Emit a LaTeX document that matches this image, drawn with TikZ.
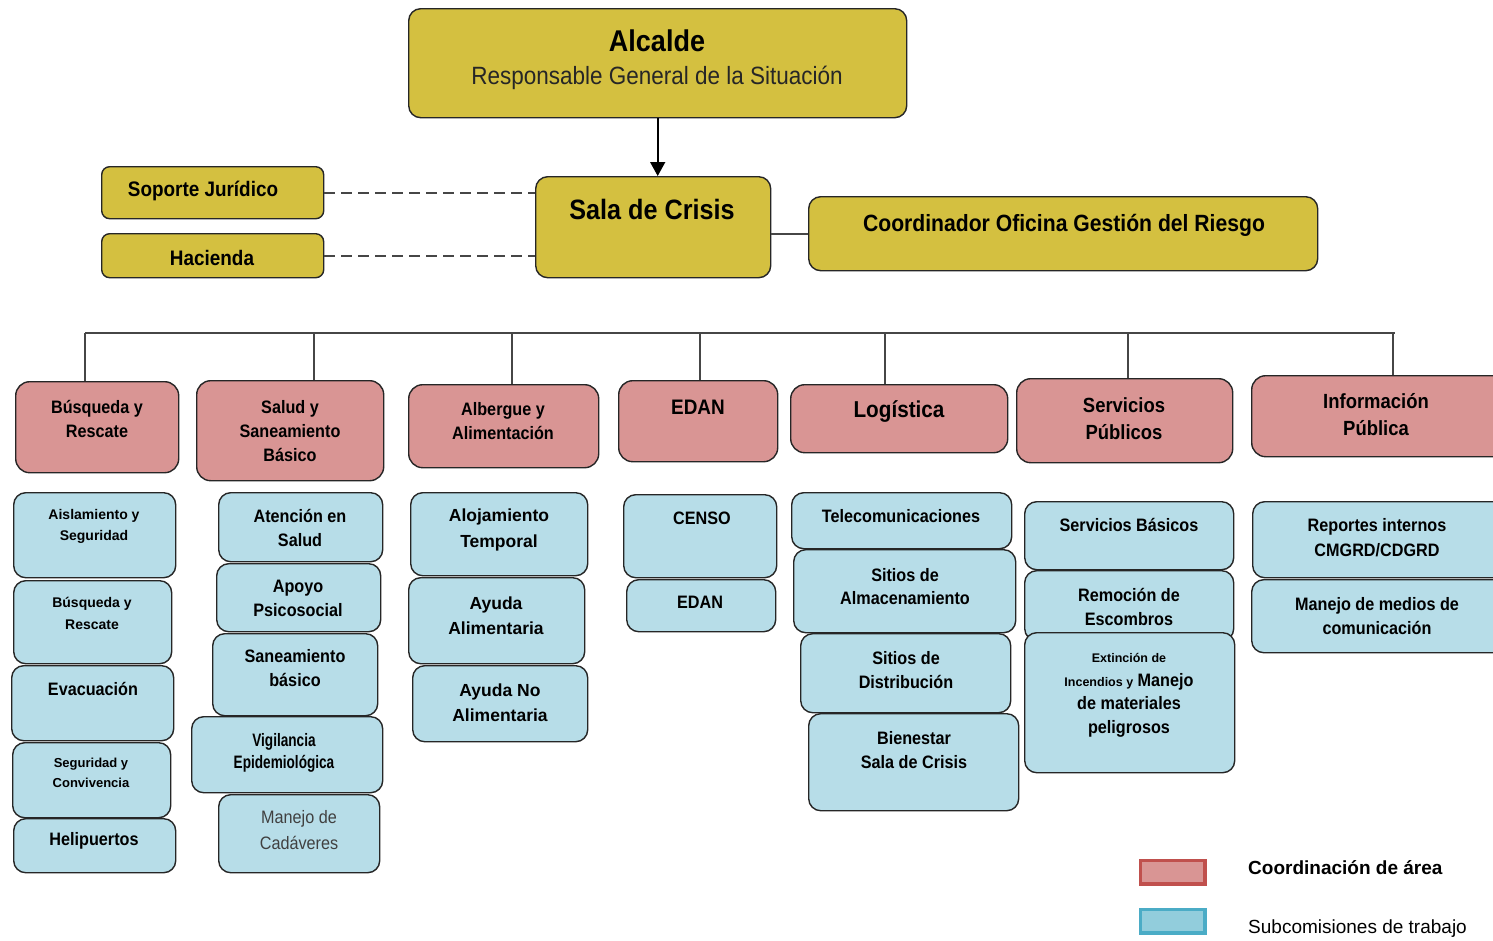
\documentclass[tikz,border=0pt]{standalone}
\usepackage{fontspec}
\setmainfont{Liberation Sans}[FakeStretch=0.9]
\newfontfamily\widefont{Liberation Sans}
\usepackage{graphicx}
\usetikzlibrary{arrows.meta}

\definecolor{jefeyellow}{RGB}{212,192,64}
\definecolor{areapink}{RGB}{217,149,148}
\definecolor{subblue}{RGB}{183,221,232}
\definecolor{boxline}{RGB}{38,38,38}
\definecolor{linegray}{RGB}{70,70,70}
\definecolor{legred}{RGB}{192,80,77}
\definecolor{legblue}{RGB}{75,172,198}
\definecolor{legfill}{RGB}{146,205,220}

\begin{document}
\begin{tikzpicture}[x=1pt, y=-1pt,
    box/.style={draw=boxline, line width=1.4pt, rounded corners=12pt, anchor=north west, inner sep=0pt},
    jefe/.style={box, fill=jefeyellow},
    area/.style={box, fill=areapink, rounded corners=14pt},
    sub/.style={box, fill=subblue},
    txt/.style={align=center, inner sep=0pt, font=\bfseries\fontsize{18}{24}\selectfont},
    wide/.style={txt, font=\widefont\bfseries\fontsize{14}{21}\selectfont},
    busline/.style={draw=linegray, line width=1.6pt},
    dashline/.style={draw=linegray, line width=2.2pt, dash pattern=on 11pt off 6pt}]

    \useasboundingbox (0,0) rectangle (1493,940);

    % the head boxes
    \node[jefe, minimum width=498pt, minimum height=109pt] (alcalde) at (408,8) {};
    \node[txt, font=\bfseries\fontsize{30}{36}\selectfont] (alcalde-t) at (657,41) {Alcalde};
    \node[txt, font=\fontsize{25}{30}\selectfont, text=black!85] (alcalde-s) at (657,78) {Responsable General de la Situación};
    \node[jefe, minimum width=235pt, minimum height=101pt] (sala) at (535,176) {};
    \node[txt, font=\bfseries\fontsize{28}{34}\selectfont] (sala-t) at (652,209) {Sala de Crisis};
    \node[jefe, rounded corners=8pt, minimum width=222pt, minimum height=52pt] (soporte) at (101,166) {};
    \node[txt, font=\bfseries\fontsize{21}{26}\selectfont] (soporte-t) at (203,191) {Soporte Jurídico};
    \node[jefe, rounded corners=8pt, minimum width=222pt, minimum height=44pt] (hacienda) at (101,233) {};
    \node[txt, font=\bfseries\fontsize{21}{26}\selectfont] (hacienda-t) at (212,258) {Hacienda};
    \node[jefe, minimum width=509pt, minimum height=74pt] (coord) at (808,196) {};
    \node[txt, font=\bfseries\fontsize{23.5}{28}\selectfont] (coord-t) at (1064,225) {Coordinador Oficina Gestión del Riesgo};

    % links between the head boxes
    \draw[line width=1.6pt, -{Triangle[length=14pt,width=15pt]}] (alcalde.south) -- (alcalde.south |- sala.north);
    \draw[dashline] (soporte.east) -- (soporte.east -| sala.west);
    \draw[dashline] (hacienda.east) -- (hacienda.east -| sala.west);
    \draw[busline] (coord.west -| sala.east) -- (coord.west);

    % the area coordinators
    \node[area, minimum width=163pt, minimum height=91pt] (busq) at (15,381) {};
    \node[txt] (busq-t) at (97,419) {Búsqueda y\\Rescate};
    \node[area, minimum width=187pt, minimum height=100pt] (salud) at (196,380) {};
    \node[txt] (salud-t) at (290,431) {Salud y\\Saneamiento\\Básico};
    \node[area, minimum width=190pt, minimum height=83pt] (albergue) at (408,384) {};
    \node[txt] (albergue-t) at (503,421) {Albergue y\\Alimentación};
    \node[area, minimum width=159pt, minimum height=81pt] (edan) at (618,380) {};
    \node[txt, font=\bfseries\fontsize{21}{26}\selectfont] (edan-t) at (698,407) {EDAN};
    \node[area, minimum width=217pt, minimum height=68pt] (logistica) at (790,384) {};
    \node[txt, font=\bfseries\fontsize{23}{28}\selectfont] (logistica-t) at (899,411) {Logística};
    \node[area, minimum width=216pt, minimum height=84pt] (servicios) at (1016,378) {};
    \node[txt, font=\bfseries\fontsize{20.5}{27}\selectfont] (servicios-t) at (1124,418.5) {Servicios\\Públicos};
    \node[area, minimum width=260pt, minimum height=81pt] (info) at (1251,375) {};
    \node[txt, font=\bfseries\fontsize{20.5}{27}\selectfont] (info-t) at (1376,414.5) {Información\\Pública};

    % the bus and the drops to the areas
    \foreach \x/\n in {85/busq, 314/salud, 512/albergue, 700/edan, 885/logistica, 1128/servicios, 1393/info} {
        \coordinate (drop-\n) at (\x,333);
        \draw[busline] (drop-\n) -- (drop-\n |- \n.north);
    }
    \draw[busline] (drop-busq) -- ([xshift=2pt]drop-info);

    % Busqueda y Rescate
    \node[sub, minimum width=162pt, minimum height=85pt] (aisla) at (13,492) {};
    \node[wide] (aisla-t) at (94,526.5) {Aislamiento y\\Seguridad};
    \node[sub, minimum width=158pt, minimum height=83pt] (busq2) at (13,580) {};
    \node[wide, font=\widefont\bfseries\fontsize{14}{22}\selectfont] (busq2-t) at (92,613) {Búsqueda y\\Rescate};
    \node[sub, minimum width=162pt, minimum height=75pt] (evac) at (11,665) {};
    \node[txt] (evac-t) at (93,689) {Evacuación};
    \node[sub, minimum width=158pt, minimum height=75pt] (segur) at (12,742) {};
    \node[wide, font=\widefont\bfseries\fontsize{13}{20}\selectfont] (segur-t) at (91,773) {Seguridad y\\Convivencia};
    \node[sub, minimum width=162pt, minimum height=54pt] (heli) at (13,818) {};
    \node[txt] (heli-t) at (94,841) {Helipuertos};

    % Salud y Saneamiento
    \node[sub, minimum width=164pt, minimum height=69pt] (atencion) at (218,492) {};
    \node[txt] (atencion-t) at (300,528) {Atención en\\Salud};
    \node[sub, minimum width=164pt, minimum height=68pt] (apoyo) at (216,563) {};
    \node[txt] (apoyo-t) at (298,598) {Apoyo\\Psicosocial};
    \node[sub, minimum width=165pt, minimum height=82pt] (sanea) at (212,633) {};
    \node[txt] (sanea-t) at (295,668) {Saneamiento\\básico};
    \node[sub, minimum width=191pt, minimum height=76pt] (vigila) at (191,716) {};
    \node[txt, font=\bfseries\fontsize{18}{22}\selectfont] (vigila-t) at (284,753) {\scalebox{0.84}[1]{Vigilancia}\\\scalebox{0.84}[1]{Epidemiológica}};
    \node[sub, minimum width=161pt, minimum height=78pt] (cadav) at (218,794) {};
    \node[txt, font=\fontsize{18}{26}\selectfont, text=black!75] (cadav-t) at (299,830) {Manejo de\\Cadáveres};

    % Albergue y Alimentacion
    \node[sub, minimum width=177pt, minimum height=83pt] (aloja) at (410,492) {};
    \node[wide, font=\widefont\bfseries\fontsize{17.5}{26}\selectfont] (aloja-t) at (499,530) {Alojamiento\\Temporal};
    \node[sub, minimum width=176pt, minimum height=86pt] (ayuda) at (408,577) {};
    \node[wide, font=\widefont\bfseries\fontsize{17.5}{25}\selectfont] (ayuda-t) at (496,615.5) {Ayuda\\Alimentaria};
    \node[sub, minimum width=175pt, minimum height=76pt] (ayudano) at (412,665) {};
    \node[wide, font=\widefont\bfseries\fontsize{17.5}{25}\selectfont] (ayudano-t) at (500,702.5) {Ayuda No\\Alimentaria};

    % EDAN
    \node[sub, minimum width=153pt, minimum height=83pt] (censo) at (623,494) {};
    \node[txt] (censo-t) at (702,518) {CENSO};
    \node[sub, minimum width=149pt, minimum height=52pt] (edan2) at (626,579) {};
    \node[txt] (edan2-t) at (700,602) {EDAN};

    % Logistica
    \node[sub, minimum width=220pt, minimum height=56pt] (tele) at (791,492) {};
    \node[txt] (tele-t) at (901,516) {Telecomunicaciones};
    \node[sub, minimum width=222pt, minimum height=83pt] (almacen) at (793,549) {};
    \node[txt, font=\bfseries\fontsize{18}{23}\selectfont] (almacen-t) at (905,586.5) {Sitios de\\Almacenamiento};
    \node[sub, minimum width=210pt, minimum height=79pt] (distrib) at (800,633) {};
    \node[txt] (distrib-t) at (906,670) {Sitios de\\Distribución};
    \node[sub, minimum width=210pt, minimum height=97pt] (bienestar) at (808,713) {};
    \node[txt] (bienestar-t) at (914,750) {Bienestar\\Sala de Crisis};

    % Servicios Publicos
    \node[sub, minimum width=209pt, minimum height=68pt] (basicos) at (1024,501) {};
    \node[txt] (basicos-t) at (1129,525) {Servicios Básicos};
    \node[sub, minimum width=209pt, minimum height=70pt] (remocion) at (1024,570) {};
    \node[txt] (remocion-t) at (1129,607) {Remoción de\\Escombros};
    \node[sub, minimum width=210pt, minimum height=140pt] (extincion) at (1024,632) {};
    \node[txt, font=\bfseries\fontsize{18}{23.5}\selectfont] (extincion-t) at (1129,695.5)
        {{\widefont\fontsize{12.5}{23.5}\selectfont Extinción de}\\{\widefont\fontsize{12.5}{23.5}\selectfont Incendios y} Manejo\\de materiales\\peligrosos};

    % Informacion Publica
    \node[sub, minimum width=260pt, minimum height=76pt] (reportes) at (1252,501) {};
    \node[txt, font=\bfseries\fontsize{18}{25}\selectfont] (reportes-t) at (1377,537.5) {Reportes internos\\CMGRD/CDGRD};
    \node[sub, minimum width=260pt, minimum height=73pt] (medios) at (1251,579) {};
    \node[txt] (medios-t) at (1377,616) {Manejo de medios de\\comunicación};

    % the legend
    \node[box, rounded corners=0pt, draw=legred, fill=areapink, line width=3.5pt, minimum width=64.5pt, minimum height=23.5pt] (leg-area) at (1138.75,858.75) {};
    \node[anchor=west, inner sep=0pt, font=\widefont\bfseries\fontsize{19}{23}\selectfont] (leg-area-t) at (1248,868) {Coordinación de área};
    \node[box, rounded corners=0pt, draw=legblue, fill=legfill, line width=3.5pt, minimum width=64.5pt, minimum height=23.5pt] (leg-sub) at (1138.75,907.75) {};
    \node[anchor=west, inner sep=0pt, font=\widefont\fontsize{19}{23}\selectfont] (leg-sub-t) at (1248,929) {Subcomisiones de trabajo};
\end{tikzpicture}
\end{document}
